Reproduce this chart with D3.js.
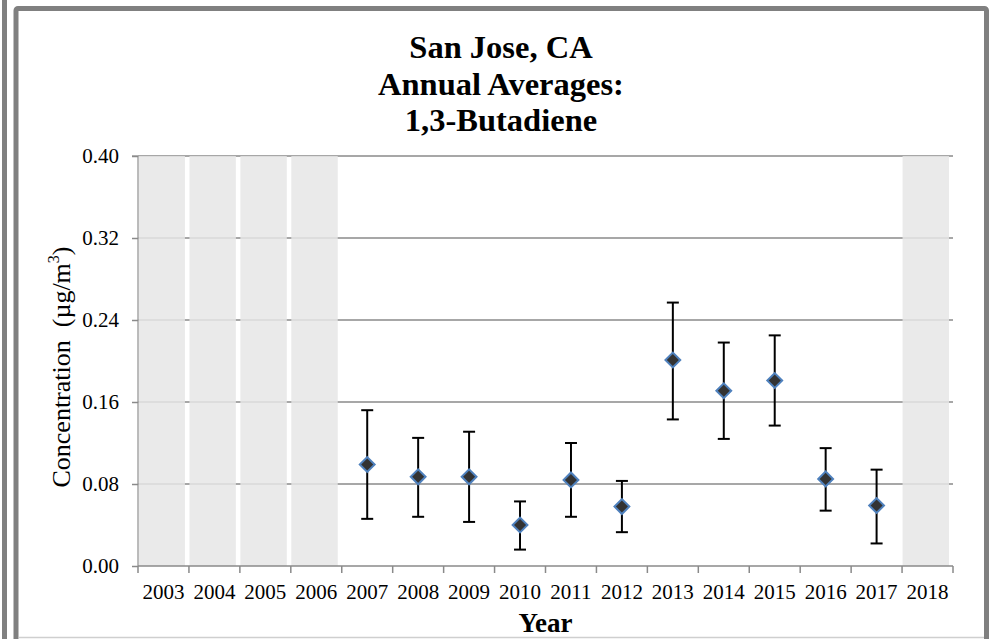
<!DOCTYPE html>
<html>
<head>
<meta charset="utf-8">
<script src="https://cdn.jsdelivr.net/npm/d3@7"></script>
<style>
  body { margin: 0; background: #fff; }
  svg text { font-family: "Liberation Serif", "Times New Roman", serif; fill: #000; }
</style>
</head>
<body>
<svg id="chart" width="996" height="639"></svg>
<script>
// categories on the x axis
const years = ["2003","2004","2005","2006","2007","2008","2009","2010","2011","2012","2013","2014","2015","2016","2017","2018"];
// years with no data, drawn as grey bands
const shadedYears = ["2003","2004","2005","2006","2018"];
// annual averages and their 95% confidence limits
const dataYears = ["2007","2008","2009","2010","2011","2012","2013","2014","2015","2016","2017"];
const means  = [0.099, 0.087, 0.087, 0.040, 0.084, 0.058, 0.201, 0.171, 0.181, 0.085, 0.059];
const lowers = [0.046, 0.048, 0.043, 0.016, 0.048, 0.033, 0.143, 0.124, 0.137, 0.054, 0.022];
const uppers = [0.152, 0.125, 0.131, 0.063, 0.120, 0.083, 0.257, 0.218, 0.225, 0.115, 0.094];
const yTicks = [0, 0.08, 0.16, 0.24, 0.32, 0.40];
const titleLines = ["San Jose, CA", "Annual Averages:", "1,3-Butadiene"];

const svg = d3.select("#chart");

// frames
svg.append("rect").attr("x", 2).attr("y", 0).attr("width", 5).attr("height", 639).attr("fill", "#808080");
svg.append("rect").attr("x", 16).attr("y", 8.5).attr("width", 970.5).attr("height", 640)
   .attr("rx", 2).attr("fill", "#fff").attr("stroke", "#808080").attr("stroke-width", 5);
svg.append("line").attr("x1", 19).attr("x2", 984).attr("y1", 637.5).attr("y2", 637.5)
   .attr("stroke", "#cfcfcf").attr("stroke-width", 1.5);

const pLeft = 138, pRight = 953, pTop = 156, pBottom = 566;
const xs = d3.scaleBand().domain(years).range([pLeft, pRight]);
const ys = d3.scaleLinear().domain([0, 0.40]).range([pBottom, pTop]);

// horizontal gridlines
svg.append("g").selectAll("line").data(yTicks.slice(1)).join("line")
   .attr("x1", pLeft).attr("x2", pRight)
   .attr("y1", d => ys(d)).attr("y2", d => ys(d))
   .attr("stroke", "#8a8a8a").attr("stroke-width", 1.5);

// grey bands for years without data
svg.append("g").selectAll("rect").data(shadedYears).join("rect")
   .attr("x", d => xs(d) + 0.5).attr("y", pTop).attr("width", xs.bandwidth() - 4.5)
   .attr("height", pBottom - pTop).attr("fill", "#e6e6e6").attr("opacity", 0.85);

// y axis
const yAxis = d3.axisLeft(ys).tickValues(yTicks).tickFormat(d3.format(".2f")).tickSize(6).tickPadding(13);
const gy = svg.append("g").attr("transform", `translate(${pLeft},0)`).call(yAxis);
gy.select(".domain").attr("stroke", "#a6a6a6").attr("stroke-width", 1.5).attr("d", `M-6,${pTop}H0V${pBottom}`);
gy.selectAll(".tick line").attr("stroke", "#8a8a8a").attr("stroke-width", 1.5);
gy.selectAll(".tick text").attr("font-size", 21).attr("font-family", "Liberation Serif").attr("fill", "#000");

// x axis: line, boundary ticks, labels centred in each band
svg.append("line").attr("x1", pLeft).attr("x2", pRight).attr("y1", pBottom).attr("y2", pBottom)
   .attr("stroke", "#8a8a8a").attr("stroke-width", 1.5);
const bounds = years.map(d => xs(d)).concat([pRight]);
svg.append("g").selectAll("line").data(bounds).join("line")
   .attr("x1", d => d).attr("x2", d => d).attr("y1", pBottom).attr("y2", pBottom + 7)
   .attr("stroke", "#8a8a8a").attr("stroke-width", 1.5);
svg.append("g").selectAll("text").data(years).join("text")
   .attr("x", d => xs(d) + xs.bandwidth() / 2).attr("y", 599)
   .attr("text-anchor", "middle").attr("font-size", 21).text(d => d);

// error bars
const pts = dataYears.map((y, i) => ({ year: y, mean: means[i], lo: lowers[i], hi: uppers[i] }));
const cx = d => xs(d.year) + xs.bandwidth() / 2;
const eb = svg.append("g").attr("stroke", "#000").attr("stroke-width", 2);
eb.selectAll(".v").data(pts).join("line")
  .attr("x1", cx).attr("x2", cx).attr("y1", d => ys(d.lo)).attr("y2", d => ys(d.hi));
eb.selectAll(".hi").data(pts).join("line")
  .attr("x1", d => cx(d) - 6).attr("x2", d => cx(d) + 6).attr("y1", d => ys(d.hi)).attr("y2", d => ys(d.hi));
eb.selectAll(".lo").data(pts).join("line")
  .attr("x1", d => cx(d) - 6).attr("x2", d => cx(d) + 6).attr("y1", d => ys(d.lo)).attr("y2", d => ys(d.lo));

// diamond markers
svg.append("g").selectAll("path").data(pts).join("path")
   .attr("d", d3.symbol(d3.symbolSquare, 110))
   .attr("transform", d => `translate(${cx(d)},${ys(d.mean)}) rotate(45)`)
   .attr("fill", "#333333").attr("stroke", "#4f81bd").attr("stroke-width", 2);

// title
svg.append("g").selectAll("text").data(titleLines).join("text")
   .attr("x", 501).attr("y", (d, i) => 58 + i * 36.7)
   .attr("text-anchor", "middle").attr("font-size", 32.5).attr("font-weight", "bold").text(d => d);

// axis titles
const yl = svg.append("text").attr("transform", "translate(70,367) rotate(-90)")
   .attr("text-anchor", "middle").attr("font-size", 26).style("white-space", "pre");
yl.append("tspan").text("Concentration  (µg/m");
yl.append("tspan").attr("font-size", 16).attr("dy", -11).text("3");
yl.append("tspan").attr("dy", 11).text(")");

svg.append("text").attr("x", (pLeft + pRight) / 2).attr("y", 632)
   .attr("text-anchor", "middle").attr("font-size", 27).attr("font-weight", "bold").text("Year");
</script>
</body>
</html>
